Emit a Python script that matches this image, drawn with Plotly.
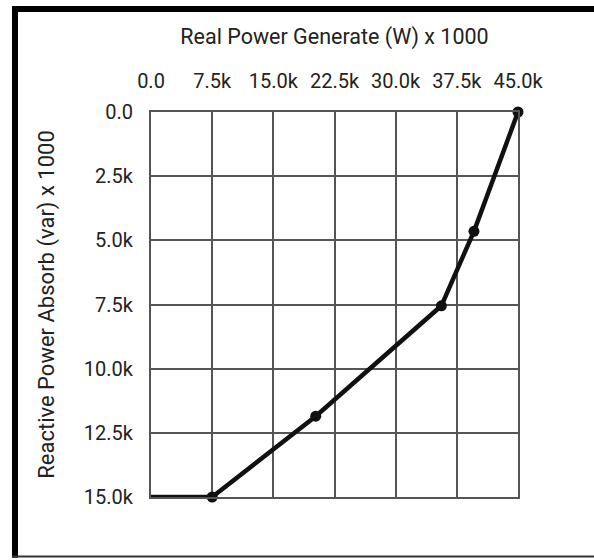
import plotly.graph_objects as go

# Data
real_power = [0, 7500, 20200, 35600, 39600, 45000]
reactive_power = [15000, 15000, 11850, 7550, 4650, 0]
marker_sizes = [0, 11, 11, 11, 11, 11]

x_tickvals = [0, 7500, 15000, 22500, 30000, 37500, 45000]
x_ticktext = ["0.0", "7.5k", "15.0k", "22.5k", "30.0k", "37.5k", "45.0k"]
y_tickvals = [0, 2500, 5000, 7500, 10000, 12500, 15000]
y_ticktext = ["0.0", "2.5k", "5.0k", "7.5k", "10.0k", "12.5k", "15.0k"]

x_title = "Real Power Generate (W) x 1000"
y_title = "Reactive Power Absorb (var) x 1000"

FONT = "Roboto, sans-serif"
GRID = "#555555"
TEXT = "#222222"

fig = go.Figure()
fig.add_trace(go.Scatter(
    x=real_power, y=reactive_power,
    mode="lines+markers",
    line=dict(color="#111111", width=4.5),
    marker=dict(color="#111111", size=marker_sizes, opacity=1,
                line=dict(width=0)),
    cliponaxis=False,
    showlegend=False,
))

axis_common = dict(
    showgrid=True, gridcolor=GRID, gridwidth=2,
    showline=True, linecolor=GRID, linewidth=2, mirror=True,
    zeroline=False, ticks="",
    tickfont=dict(family=FONT, size=20, color=TEXT),
)

fig.update_layout(
    width=594, height=560,
    margin=dict(l=151, r=76, t=112, b=63),
    paper_bgcolor="white", plot_bgcolor="white",
    xaxis=dict(
        range=[0, 45000], side="top",
        tickvals=x_tickvals, ticktext=x_ticktext,
        ticklabelstandoff=14,
        title=dict(text=x_title, standoff=18,
                   font=dict(family=FONT, size=21.5, color=TEXT)),
        **axis_common,
    ),
    yaxis=dict(
        range=[15000, 0],
        tickvals=y_tickvals, ticktext=y_ticktext,
        ticklabelstandoff=12,
        title=dict(text=y_title, standoff=23,
                   font=dict(family=FONT, size=22, color=TEXT)),
        **axis_common,
    ),
    shapes=[
        dict(type="line", xref="paper", yref="paper",
             x0=-0.3706, x1=-0.3706, y0=1.275, y1=-0.158,
             line=dict(color="black", width=6)),
        dict(type="line", xref="paper", yref="paper",
             x0=-0.378, x1=1.25, y0=1.2675, y1=1.2675,
             line=dict(color="black", width=6)),
        dict(type="line", xref="paper", yref="paper",
             x0=-0.378, x1=1.25, y0=-0.1545, y1=-0.1545,
             line=dict(color="#333333", width=2)),
    ],
)

fig.write_html("out.html")
